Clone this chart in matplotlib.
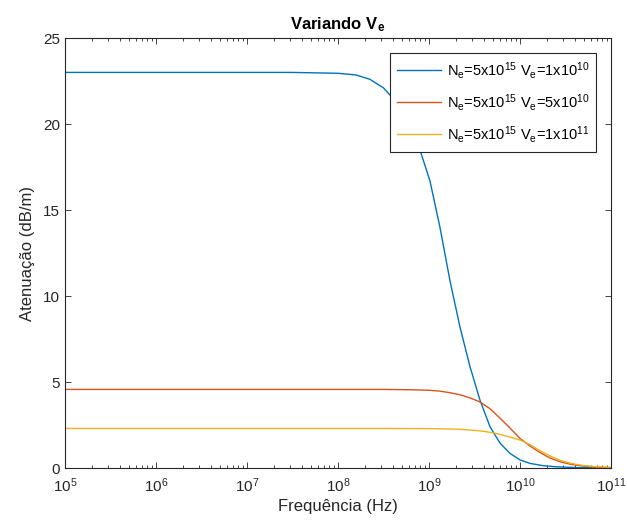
import matplotlib
matplotlib.use("Agg")
import matplotlib.pyplot as plt
from matplotlib.ticker import LogLocator, NullFormatter, FixedLocator
import numpy as np

plt.rcParams["font.family"] = ["Liberation Sans", "DejaVu Sans"]
plt.rcParams["mathtext.fontset"] = "custom"
plt.rcParams["mathtext.rm"] = "Liberation Sans"
plt.rcParams["mathtext.it"] = "Liberation Sans"
plt.rcParams["mathtext.bf"] = "Liberation Sans:bold"
plt.rcParams["mathtext.default"] = "regular"

# Frequency exponents (10^x Hz) and Atenuação (dB/m)
# V_e = 1x10^10
exp_ve1e10 = [5.0, 7.0, 7.5, 8.0, 8.2, 8.35, 8.5, 8.62, 8.75, 8.9, 9.01, 9.12,
              9.23, 9.34, 9.45, 9.56, 9.67, 9.78, 9.89, 10.0, 10.11, 10.25,
              10.4, 10.6, 10.8, 11.0]
att_ve1e10 = [23.0, 23.0, 23.0, 22.95, 22.85, 22.6, 22.1, 21.4, 20.3, 18.5,
              16.7, 14.0, 10.9, 8.2, 5.9, 3.95, 2.4, 1.45, 0.85, 0.47, 0.27,
              0.14, 0.07, 0.03, 0.015, 0.01]
# V_e = 5x10^10
exp_ve5e10 = [5.0, 8.0, 8.5, 8.8, 9.0, 9.12, 9.23, 9.34, 9.45, 9.56, 9.67,
              9.78, 9.89, 10.0, 10.11, 10.22, 10.33, 10.45, 10.56, 10.7,
              10.85, 11.0]
att_ve5e10 = [4.57, 4.57, 4.57, 4.55, 4.52, 4.47, 4.38, 4.26, 4.08, 3.84,
              3.45, 2.9, 2.32, 1.72, 1.28, 0.9, 0.58, 0.35, 0.21, 0.11, 0.05,
              0.02]
# V_e = 1x10^11
exp_ve1e11 = [5.0, 8.5, 9.0, 9.2, 9.34, 9.45, 9.56, 9.67, 9.78, 9.89, 10.0,
              10.11, 10.22, 10.33, 10.45, 10.56, 10.7, 10.85, 11.0]
att_ve1e11 = [2.3, 2.3, 2.29, 2.27, 2.25, 2.21, 2.16, 2.08, 1.96, 1.8, 1.63,
              1.36, 1.0, 0.7, 0.43, 0.27, 0.14, 0.07, 0.04]

labels = [r"N$_e$=5x10$^{15}$ V$_e$=1x10$^{10}$",
          r"N$_e$=5x10$^{15}$ V$_e$=5x10$^{10}$",
          r"N$_e$=5x10$^{15}$ V$_e$=1x10$^{11}$"]
colors = ["#0072BD", "#D95319", "#EDB120"]

series = [(exp_ve1e10, att_ve1e10), (exp_ve5e10, att_ve5e10),
          (exp_ve1e11, att_ve1e11)]

fig = plt.figure(figsize=(6.27, 5.31), dpi=100)
ax = fig.add_axes([0.1037, 0.1186, 0.8708, 0.8098])

for (ex, vals), lab, col in zip(series, labels, colors):
    ax.plot(10.0 ** np.array(ex), vals, color=col, linewidth=1.0, label=lab)

ax.set_xscale("log")
ax.set_xlim(1e5, 1e11)
ax.set_ylim(0, 25)
ax.set_yticks([0, 5, 10, 15, 20, 25])
ax.xaxis.set_major_locator(FixedLocator([10.0 ** k for k in range(5, 12)]))
ax.xaxis.set_minor_locator(LogLocator(base=10, subs=np.arange(2, 10), numticks=20))
ax.xaxis.set_minor_formatter(NullFormatter())

ax.tick_params(which="both", direction="in", top=True, right=True,
               labelsize=11, colors="#262626")
ax.tick_params(which="major", length=4, width=0.6)
ax.tick_params(which="minor", length=2.5, width=0.6)
ax.tick_params(axis="x", pad=6)
for sp in ax.spines.values():
    sp.set_color("#262626")
    sp.set_linewidth(0.8)

ax.set_xlabel("Frequência (Hz)", fontsize=12, color="#262626", labelpad=3)
ax.set_ylabel("Atenuação (dB/m)", fontsize=12, color="#262626", labelpad=6)
ax.set_title(r"Variando V$_\mathbf{e}$", fontsize=12, fontweight="bold", pad=6)

leg = ax.legend(loc="upper right", fontsize=10.5, frameon=True, fancybox=False,
                framealpha=1.0, borderaxespad=1.0, handlelength=3.0,
                labelspacing=0.75, borderpad=0.5, handletextpad=0.4)
leg.get_frame().set_edgecolor("#262626")
leg.get_frame().set_linewidth(0.8)

fig.savefig("out.png", dpi=100, facecolor="white")
